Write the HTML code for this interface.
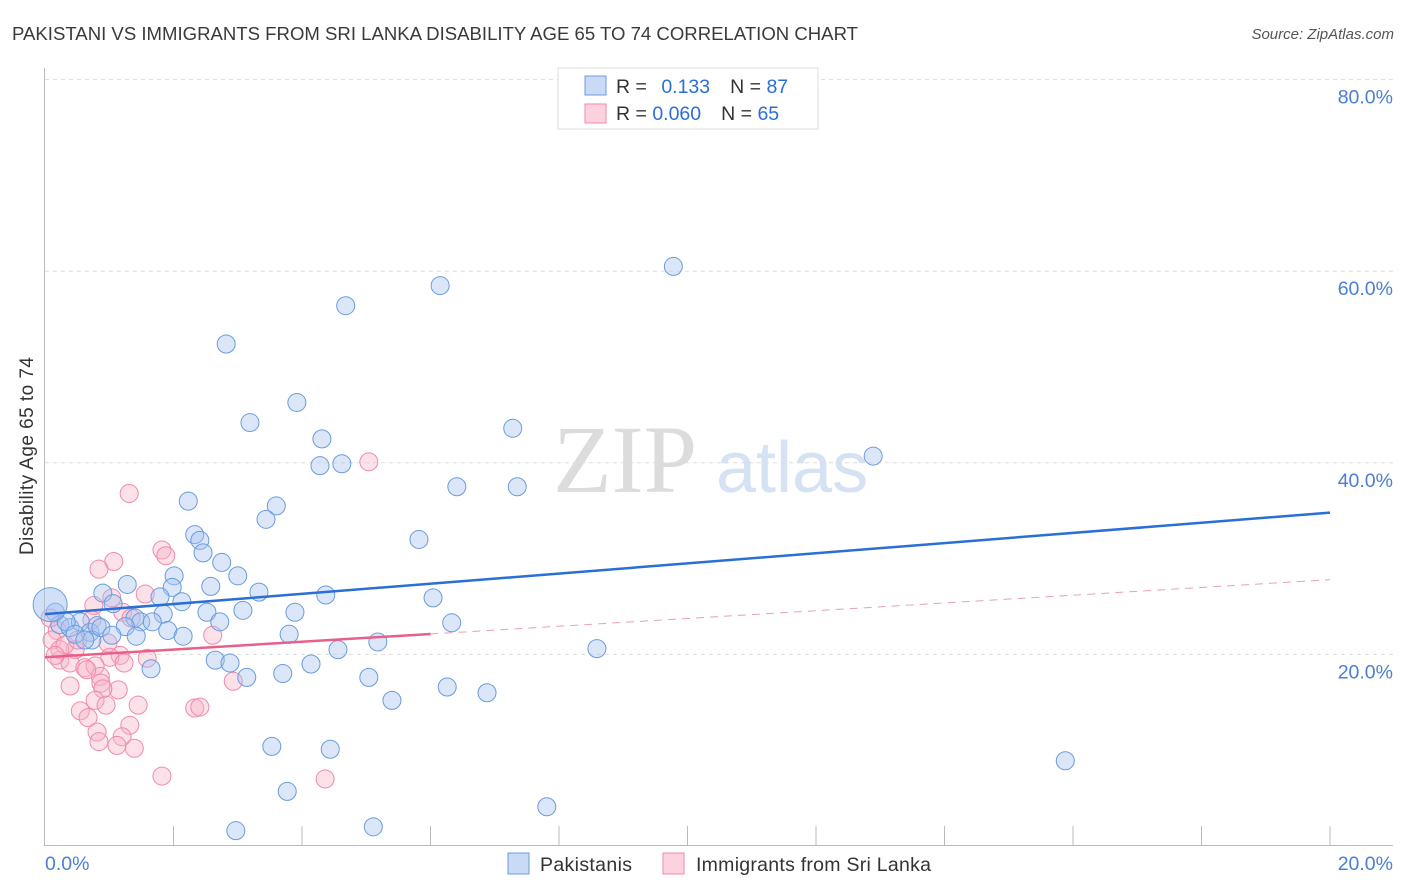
<!DOCTYPE html>
<html><head><meta charset="utf-8"><style>
body{margin:0;background:#fff;font-family:"Liberation Sans",sans-serif;}
svg{display:block}
</style></head><body>
<svg id="chart" width="1406" height="892" xmlns="http://www.w3.org/2000/svg">
<text x="12" y="40" font-size="18" fill="#3a3a3a" textLength="846" lengthAdjust="spacingAndGlyphs">PAKISTANI VS IMMIGRANTS FROM SRI LANKA DISABILITY AGE 65 TO 74 CORRELATION CHART</text>
<text x="1394" y="39" font-size="15" fill="#555" font-style="italic" text-anchor="end">Source: ZipAtlas.com</text>
<text x="33" y="456" font-size="19" fill="#333" text-anchor="middle" textLength="198" transform="rotate(-90 33 456)">Disability Age 65 to 74</text>
<g>
<text x="553" y="492" font-family="Liberation Serif,serif" font-size="96" fill="#dcdcdc">ZIP</text>
<text x="716" y="492" font-size="72" fill="#d4e2f4">atlas</text>
</g>
<g id="grid"></g><g id="axes"></g><g id="pts"></g><g id="lines"></g>
<g>
<rect x="558" y="68" width="260" height="61" fill="#fff" stroke="#ddd"/>
<rect x="585" y="76" width="21" height="19" fill="rgba(164,194,240,0.6)" stroke="#6a9be0"/>
<rect x="585" y="104" width="21" height="19" fill="rgba(248,180,200,0.6)" stroke="#f08aa8"/>
<text x="616" y="93" font-size="19.5" fill="#333">R = <tspan fill="#2a6fd6" dx="9">0.133</tspan><tspan dx="20" fill="#333">N = </tspan><tspan fill="#2a6fd6">87</tspan></text>
<text x="616" y="120" font-size="19.5" fill="#333">R = <tspan fill="#2a6fd6">0.060</tspan><tspan dx="20" fill="#333">N = </tspan><tspan fill="#2a6fd6">65</tspan></text>
</g>
<g>
<rect x="508" y="853" width="21" height="21" fill="rgba(164,194,240,0.6)" stroke="#6a9be0"/>
<text x="540" y="871" font-size="19.5" fill="#333" textLength="92">Pakistanis</text>
<rect x="663" y="853" width="21" height="21" fill="rgba(248,180,200,0.6)" stroke="#f08aa8"/>
<text x="696" y="871" font-size="19.5" fill="#333" textLength="235">Immigrants from Sri Lanka</text>
</g>
</svg>
<script>
const xTicks=[0,20];
const yTicks=[20,40,60,80];
const blueX=[9.78,6.15,4.68,2.82,3.92,3.19,4.31,7.28,4.28,4.62,12.89,6.41,7.35,2.23,3.60,3.44,2.33,2.41,2.46,2.75,5.82,2.01,3.0,1.28,2.58,1.98,3.33,0.90,4.37,1.79,6.04,2.13,1.06,3.08,2.52,3.89,1.84,1.40,2.72,6.33,1.49,1.67,1.25,1.91,2.15,1.42,3.80,5.18,8.59,4.56,2.65,2.88,4.14,1.65,3.14,3.70,5.04,6.26,6.88,5.40,3.53,4.44,15.88,3.77,7.81,2.97,5.11,0.16,0.23,0.39,0.55,0.70,0.81,0.33,0.47,0.73,0.87,1.04,0.62];
const blueY=[60.5,58.5,56.4,52.4,46.3,44.2,42.5,43.6,39.7,39.9,40.7,37.5,37.5,36.0,35.5,34.1,32.5,31.9,30.6,29.6,32.0,28.2,28.2,27.3,27.1,27.0,26.5,26.4,26.2,26.0,25.9,25.5,25.3,24.6,24.4,24.4,24.2,23.8,23.4,23.3,23.4,23.4,22.9,22.5,21.9,21.9,22.1,21.3,20.6,20.5,19.4,19.1,19.0,18.5,17.6,18.0,17.6,16.6,16.0,15.2,10.4,10.1,8.9,5.7,4.1,1.6,2.0,24.4,23.1,22.8,23.4,22.3,23.0,23.4,22.1,21.5,22.8,22.0,21.5];
const pinkX=[5.04,1.31,1.82,1.88,1.07,0.84,1.56,1.04,0.76,1.21,1.34,0.73,2.61,0.98,0.47,1.17,1.59,1.01,1.23,0.23,0.39,0.62,0.78,0.86,0.65,2.93,0.87,0.39,1.14,0.90,0.78,0.55,1.45,0.95,2.33,2.41,0.67,1.32,0.81,1.20,0.84,1.12,1.39,1.82,4.36,0.19,0.11,0.23,0.08,0.31,0.16,0.51];
const pinkY=[40.1,36.8,30.9,30.3,29.7,28.9,26.3,25.9,25.1,24.4,23.8,23.6,22.0,21.2,20.5,19.9,19.6,19.7,19.1,19.4,19.1,18.6,18.8,17.7,18.4,17.2,17.0,16.7,16.3,16.4,15.2,14.1,14.7,14.7,14.4,14.5,13.4,12.6,11.9,11.4,10.9,10.5,10.2,7.3,7.0,22.5,21.5,20.5,23.8,21.0,19.9,21.5];
const bigBlue=[0.08,25.2];
const blueTrend=[24.2,34.8];
const pinkTrend=[19.7,27.8];
const pinkSolidEnd=6;
const X=v=>45+v*64.25, Y=v=>846-v*9.58;
const NS='http://www.w3.org/2000/svg';
function mk(tag,attrs,parent){const e=document.createElementNS(NS,tag);for(const k in attrs)e.setAttribute(k,attrs[k]);document.getElementById(parent).appendChild(e);return e;}
yTicks.forEach(t=>{
 const l=mk('line',{x1:45,x2:1393,y1:Y(t),y2:Y(t),stroke:'#ddd','stroke-dasharray':'4,4'},'grid');
 
 
 const tx=mk('text',{x:1393,y:Y(t)+24,'font-size':19.5,fill:'#4a7fd4','text-anchor':'end'},'grid');
 tx.textContent=t.toFixed(1)+'%';
 
 
});
const ax=mk('line',{x1:44.5,x2:44.5,y1:68,y2:846,stroke:'#bbb'},'axes');


const bx=mk('line',{x1:45,x2:1393,y1:845.5,y2:845.5,stroke:'#bbb'},'axes');


for(let i=1;i<=10;i++){const tk=mk('line',{x1:X(i*2),x2:X(i*2),y1:826,y2:846,stroke:'#bbb'},'axes');
 
 }
xTicks.forEach((t,i)=>{const tx=mk('text',{x:i?1393:45,y:870,'font-size':19.5,fill:'#4a7fd4','text-anchor':i?'end':'start'},'axes');
 tx.textContent=t.toFixed(1)+'%';
 
 });
pinkX.forEach((x,i)=>{const c=mk('circle',{cx:X(x),cy:Y(pinkY[i]),r:9,fill:'rgba(248,180,200,0.4)',stroke:'#f08aa8','stroke-width':1},'pts');
 
 });
blueX.forEach((x,i)=>{const c=mk('circle',{cx:X(x),cy:Y(blueY[i]),r:9,fill:'rgba(164,194,240,0.4)',stroke:'#6a9be0','stroke-width':1},'pts');
 
 });
const bb=mk('circle',{cx:X(bigBlue[0]),cy:Y(bigBlue[1]),r:17,fill:'rgba(164,194,240,0.5)',stroke:'#6a9be0'},'pts');


const bl=mk('line',{x1:X(0),y1:Y(blueTrend[0]),x2:X(20),y2:Y(blueTrend[1]),stroke:'#2a6fd6','stroke-width':2.5},'lines');


const pm=pinkTrend[0]+(pinkTrend[1]-pinkTrend[0])*pinkSolidEnd/20;
const pl=mk('line',{x1:X(0),y1:Y(pinkTrend[0]),x2:X(pinkSolidEnd),y2:Y(pm),stroke:'#e8608a','stroke-width':2.5},'lines');


const pd=mk('line',{x1:X(pinkSolidEnd),y1:Y(pm),x2:X(20),y2:Y(pinkTrend[1]),stroke:'#e8a0b8','stroke-width':1,'stroke-dasharray':'8,6'},'lines');


</script>
</body></html>
